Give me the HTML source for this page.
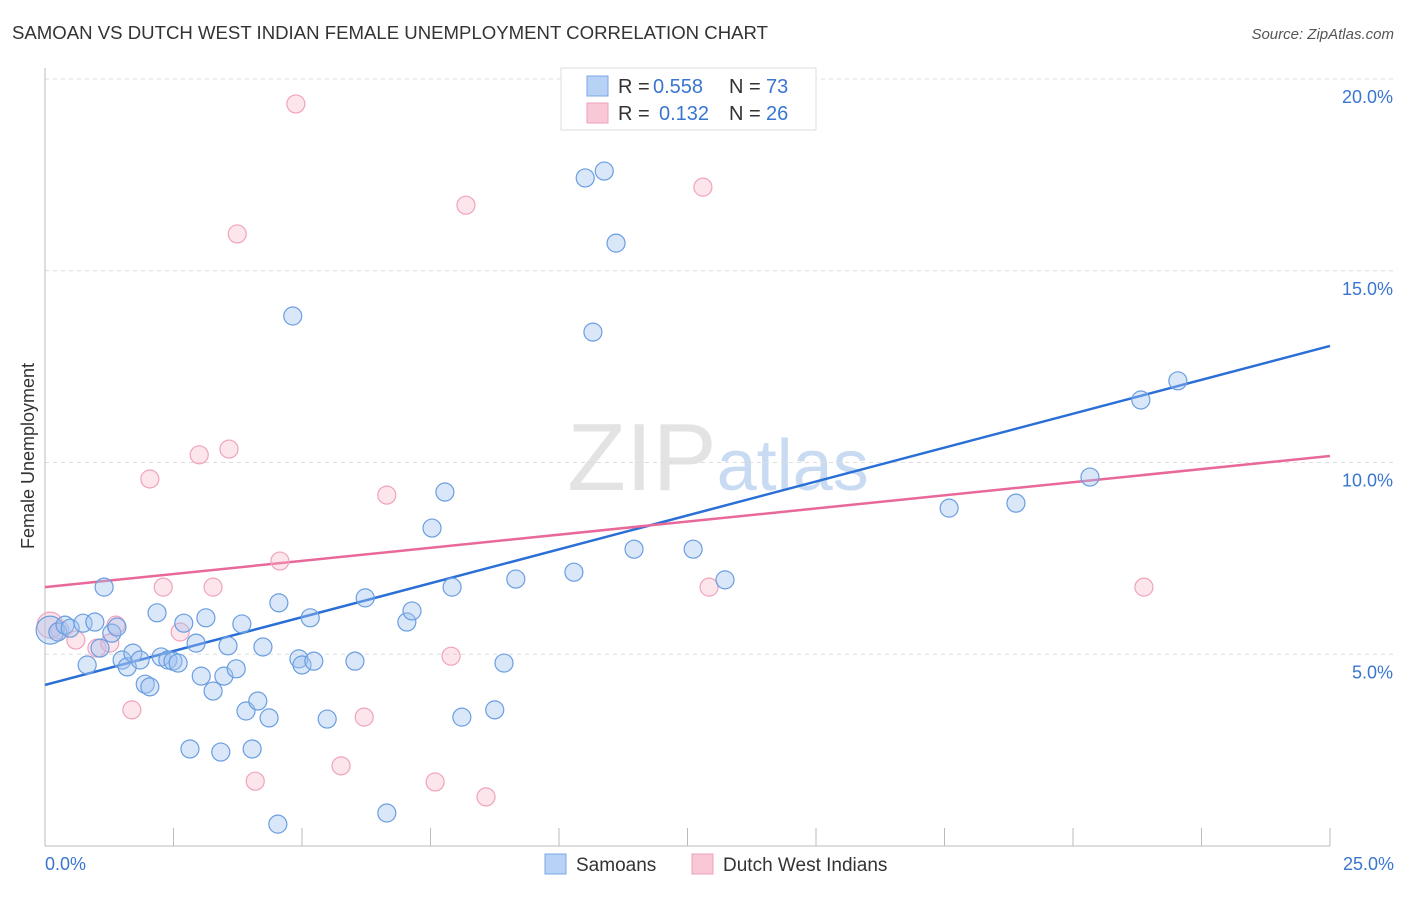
<!DOCTYPE html>
<html><head><meta charset="utf-8"><style>
body{margin:0;background:#fff;font-family:"Liberation Sans",sans-serif;}
svg text{font-family:"Liberation Sans",sans-serif;}
</style></head><body>
<svg id="chart" width="1406" height="892" viewBox="0 0 1406 892" xmlns="http://www.w3.org/2000/svg">
<text x="12" y="39" font-size="18" fill="#333" textLength="756" lengthAdjust="spacingAndGlyphs">SAMOAN VS DUTCH WEST INDIAN FEMALE UNEMPLOYMENT CORRELATION CHART</text>
<text x="1394" y="39" font-size="15" fill="#555" text-anchor="end" font-style="italic">Source: ZipAtlas.com</text>
<text x="718" y="490" font-size="96" fill="#e3e3e3" text-anchor="middle" font-family="Liberation Serif"><tspan>ZIP</tspan><tspan fill="#c9dbf2" font-family="Liberation Sans" font-size="72">atlas</tspan></text>
<g id="grid"></g>
<g id="axes"></g>
<g id="lines"></g>
<g id="points"></g>
<text transform="translate(34,456) rotate(-90)" font-size="18" fill="#333" text-anchor="middle">Female Unemployment</text>
<g>
<rect x="561" y="68" width="255" height="62" fill="#fff" stroke="#ddd"/>
<rect x="587" y="76" width="21" height="20" fill="#b7d2f5" stroke="#7aa7e6"/>
<text x="618" y="93" font-size="20" fill="#333">R =</text>
<text x="653" y="93" font-size="20" fill="#3a76d0">0.558</text>
<text x="729" y="93" font-size="20" fill="#333">N =</text>
<text x="766" y="93" font-size="20" fill="#3a76d0">73</text>
<rect x="587" y="103" width="21" height="20" fill="#f9c8d6" stroke="#eea0b8"/>
<text x="618" y="120" font-size="20" fill="#333">R =</text>
<text x="659" y="120" font-size="20" fill="#3a76d0">0.132</text>
<text x="729" y="120" font-size="20" fill="#333">N =</text>
<text x="766" y="120" font-size="20" fill="#3a76d0">26</text>
</g>
<g>
<rect x="545" y="854" width="21" height="20" fill="#b7d2f5" stroke="#7aa7e6"/>
<text x="576" y="871" font-size="19" fill="#333">Samoans</text>
<rect x="692" y="854" width="21" height="20" fill="#f9c8d6" stroke="#eea0b8"/>
<text x="723" y="871" font-size="19" fill="#333">Dutch West Indians</text>
</g>
</svg>
<script>
const blueX=[0.10,0.25,0.39,0.49,0.74,0.97,1.15,1.30,1.40,0.82,1.07,1.50,1.60,1.71,1.85,1.95,2.04,2.18,2.26,2.39,2.49,2.59,2.70,2.82,2.94,3.04,3.13,3.27,3.42,3.48,3.56,3.72,3.83,3.91,4.03,4.14,4.24,4.36,4.53,4.55,4.82,4.94,5.00,5.16,5.23,5.49,6.03,6.23,6.65,7.04,7.14,7.53,7.78,7.92,8.11,8.75,8.93,9.16,10.29,10.51,10.66,10.88,11.11,11.46,12.61,13.23,17.59,18.89,20.33,21.32,22.04];
const blueY=[5.63,5.58,5.76,5.68,5.81,5.84,6.75,5.55,5.71,4.72,5.16,4.85,4.67,5.03,4.85,4.22,4.15,6.08,4.93,4.85,4.82,4.77,5.81,2.53,5.29,4.43,5.95,4.04,2.45,4.43,5.22,4.62,5.79,3.52,2.53,3.78,5.19,3.34,0.57,6.34,13.82,4.88,4.72,5.95,4.82,3.31,4.82,6.47,0.86,5.84,6.13,8.29,9.23,6.75,3.36,3.55,4.77,6.96,7.14,17.42,13.40,17.60,15.72,7.74,7.74,6.94,8.81,8.94,9.62,11.63,12.13];
const pinkX=[0.10,0.29,0.60,1.01,1.26,1.38,1.69,2.04,2.30,2.63,3.00,3.27,3.58,3.74,4.09,4.57,4.88,5.76,6.21,6.65,7.59,7.90,8.19,8.58,12.80,12.92,21.38];
const pinkY=[5.76,5.63,5.37,5.16,5.29,5.76,3.55,9.57,6.75,5.58,10.20,6.75,10.35,15.96,1.69,7.43,19.35,2.09,3.36,9.15,1.67,4.95,16.71,1.28,17.18,6.75,6.75];
const blueTrend=[4.2,13.04];
const pinkTrend=[6.75,10.17];
const yTicks=[5,10,15,20];
const yTickLabels=["5.0%","10.0%","15.0%","20.0%"];
const xTicks=[0,2.5,5,7.5,10,12.5,15,17.5,20,22.5,25];

const NS="http://www.w3.org/2000/svg";
const X=v=>45+v*51.4;
const Y=v=>846-v*38.35;
function mk(tag,attrs,parent){const e=document.createElementNS(NS,tag);for(const k in attrs)e.setAttribute(k,attrs[k]);parent.appendChild(e);return e;}
const grid=document.getElementById('grid'),axes=document.getElementById('axes'),lines=document.getElementById('lines'),pts=document.getElementById('points');
yTicks.forEach((t,i)=>{
  const l=mk('line',{x1:45,x2:1394,y1:Y(t),y2:Y(t),stroke:'#ddd','stroke-dasharray':'4,4'},grid);
  
  
  const tx=mk('text',{x:1393,y:Y(t)+24,'font-size':18,fill:'#3a76d0','text-anchor':'end'},axes);
  tx.textContent=yTickLabels[i];
  
  
});
const ax=mk('line',{x1:45,x2:45,y1:68,y2:846,stroke:'#bbb'},axes);


const bx=mk('line',{x1:45,x2:1330,y1:846,y2:846,stroke:'#bbb'},axes);


xTicks.forEach(t=>{
  const l=mk('line',{x1:X(t),x2:X(t),y1:828,y2:846,stroke:'#bbb'},axes);
  
  
});
const xl0=mk('text',{x:45,y:870,'font-size':18,fill:'#3a76d0'},axes);xl0.textContent='0.0%';


const xl1=mk('text',{x:1394,y:870,'font-size':18,fill:'#3a76d0','text-anchor':'end'},axes);xl1.textContent='25.0%';



pinkX.forEach((x,i)=>{
  const c=mk('circle',{cx:X(x),cy:Y(pinkY[i]),r:i===0?13:9,fill:'rgba(248,180,200,0.35)',stroke:'#f0a3ba','stroke-width':1.2},pts);
  
  
});
blueX.forEach((x,i)=>{
  const c=mk('circle',{cx:X(x),cy:Y(blueY[i]),r:i===0?14:9,fill:'rgba(160,196,240,0.4)',stroke:'#6a9ee0','stroke-width':1.2},pts);
  
  
});
const bl=mk('line',{x1:X(0),y1:Y(blueTrend[0]),x2:X(25),y2:Y(blueTrend[1]),stroke:'#2a6fd6','stroke-width':2.5},lines);


const pl=mk('line',{x1:X(0),y1:Y(pinkTrend[0]),x2:X(25),y2:Y(pinkTrend[1]),stroke:'#e8689a','stroke-width':2.5},lines);


</script>
</body></html>
